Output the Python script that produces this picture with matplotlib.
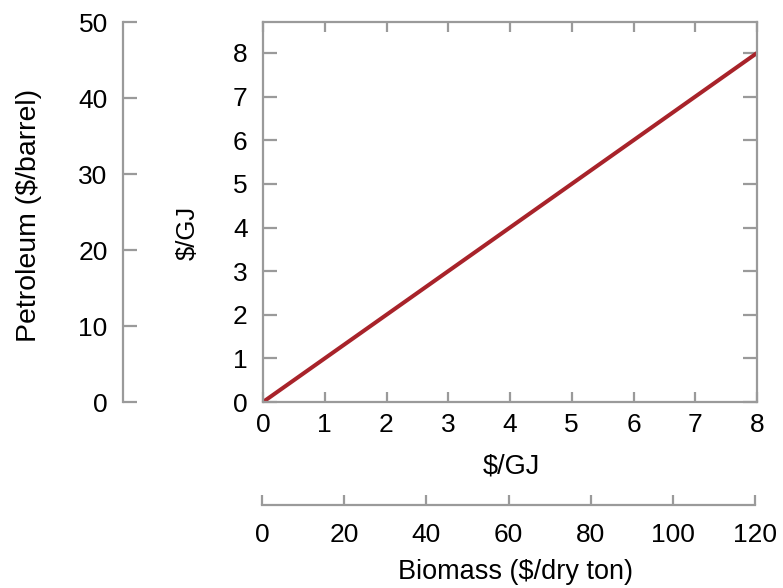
"""
Fuel price equivalence: $/GJ vs petroleum ($/barrel) and biomass ($/dry ton).
"""

import matplotlib
matplotlib.use("Agg")
import matplotlib.pyplot as plt

# data
gj_price = [0, 8]            # $/GJ on x
gj_equiv = [0, 8]            # $/GJ on y
gj_ticks = [0, 1, 2, 3, 4, 5, 6, 7, 8]
petroleum_ticks = [0, 10, 20, 30, 40, 50]
biomass_ticks = [0, 20, 40, 60, 80, 100, 120]

GREY = "#9a9a9a"
RED = "#a8232a"
FS = 19

plt.rcParams.update({
    "font.family": ["Liberation Sans", "DejaVu Sans"],
    "font.size": FS,
    "axes.edgecolor": GREY,
    "axes.linewidth": 1.6,
    "xtick.color": GREY,
    "ytick.color": GREY,
    "xtick.labelcolor": "black",
    "ytick.labelcolor": "black",
})

W, H = 783, 588
fig = plt.figure(figsize=(W / 100, H / 100), dpi=100)


def fx(px):
    return px / W


def fy(px):
    return 1 - px / H


# main axes
left, right, top, bottom = 263, 757, 22, 402
ax = fig.add_axes([fx(left), fy(bottom), fx(right - left), fy(top) - fy(bottom)])
ax.plot(gj_price, gj_equiv, color=RED, linewidth=2.9, solid_capstyle="butt")
ax.set_xlim(0, 8)
ax.set_ylim(0, 8 * (bottom - top) / (bottom - 53))
ax.set_xticks(gj_ticks)
ax.set_yticks(gj_ticks)
ax.tick_params(direction="in", width=1.6, top=True, right=True)
ax.tick_params(axis="x", length=7, pad=8)
ax.tick_params(axis="y", length=10, pad=11)
ax.set_xlabel("$/GJ", fontsize=19.5, va="center")
ax.xaxis.set_label_coords(fx(511), fy(467), transform=fig.transFigure)
ax.set_ylabel("$/GJ", fontsize=18.5, va="center")
ax.yaxis.set_label_coords(fx(188), fy(233), transform=fig.transFigure)

# petroleum axis (left)
axp = fig.add_axes([fx(123), fy(bottom), 0.001, fy(top) - fy(bottom)])
for s in ["top", "right", "bottom"]:
    axp.spines[s].set_visible(False)
axp.set_xticks([])
axp.set_ylim(0, 50)
axp.set_yticks(petroleum_ticks)
axp.tick_params(axis="y", direction="in", length=10, width=1.6, pad=11)
axp.set_ylabel("Petroleum ($/barrel)", fontsize=20.5, va="center")
axp.yaxis.set_label_coords(fx(29), fy(215), transform=fig.transFigure)
axp.patch.set_visible(False)

# biomass axis (bottom)
axb = fig.add_axes([fx(262), fy(505), fx(755 - 262), 0.001])
for s in ["top", "right", "left"]:
    axb.spines[s].set_visible(False)
axb.set_yticks([])
axb.set_xlim(0, 120)
axb.set_xticks(biomass_ticks)
axb.tick_params(axis="x", direction="in", length=7, width=1.6, pad=13)
axb.set_xlabel("Biomass ($/dry ton)", fontsize=19.5, va="center")
axb.xaxis.set_label_coords(fx(515), fy(572), transform=fig.transFigure)
axb.patch.set_visible(False)

fig.savefig("out.png", dpi=100)
